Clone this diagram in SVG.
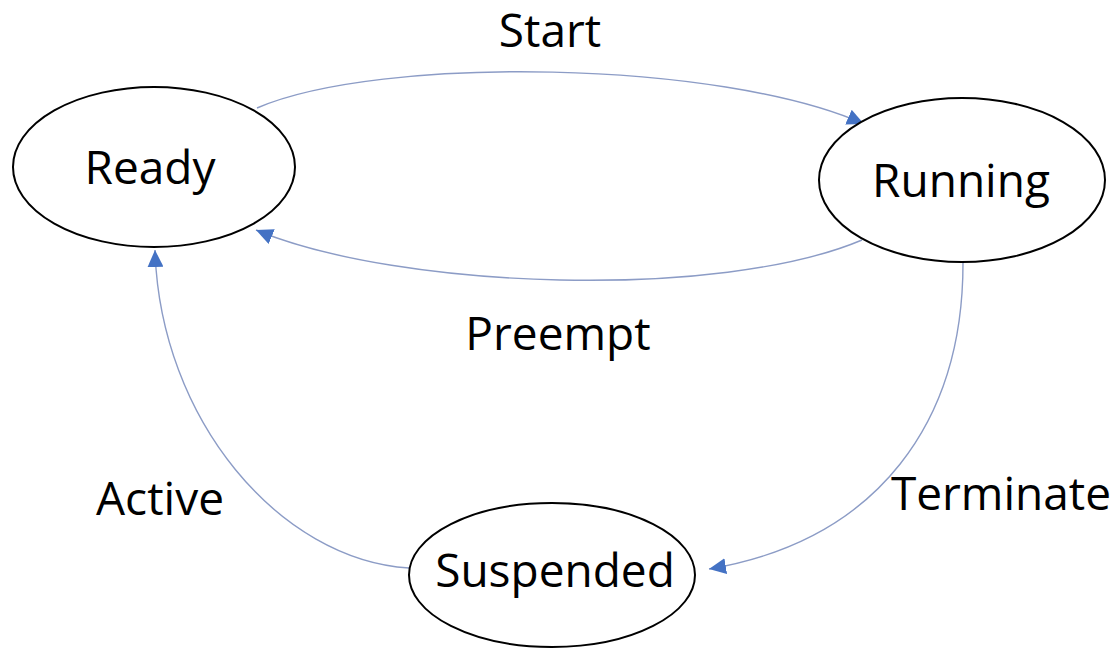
<svg xmlns="http://www.w3.org/2000/svg" width="1117" height="649" viewBox="0 0 1117 649">
  <style>
    .node { fill: #ffffff; stroke: #000000; stroke-width: 2; }
    .lbl { font-family: "Open Sans", "Liberation Sans", sans-serif; font-size: 46px; fill: #000000; text-anchor: middle; }
    .edge { fill: none; stroke: #8c9cc6; stroke-width: 1.4; marker-end: url(#arrow); }
  </style>
  <defs>
    <marker id="arrow" markerUnits="userSpaceOnUse" markerWidth="18" markerHeight="16" refX="17" refY="8" orient="auto">
      <path d="M0,0 L17,8 L0,16 z" fill="#4472c4"/>
    </marker>
  </defs>
  <rect width="1117" height="649" fill="#ffffff"/>
  <g id="connectors">
    <path id="e-start" class="edge" d="M257,108 C380,55 720,60 864,124"/>
    <path id="e-preempt" class="edge" d="M862,240 C720,300 400,290 256,230"/>
    <path id="e-terminate" class="edge" d="M963,263 C963,420 880,540 709,569"/>
    <path id="e-active" class="edge" d="M409,568 C280,560 160,420 155,250"/>
  </g>
  <g id="ready">
    <ellipse class="node" cx="154" cy="167" rx="141" ry="80"/>
    <text class="lbl" x="150" y="184">Ready</text>
  </g>
  <g id="running">
    <ellipse class="node" cx="962" cy="180" rx="143" ry="82"/>
    <text class="lbl" x="961" y="197">Running</text>
  </g>
  <g id="suspended">
    <ellipse class="node" cx="552" cy="575" rx="143" ry="72"/>
    <text class="lbl" x="555" y="587">Suspended</text>
  </g>
  <g id="labels">
    <text class="lbl" x="550" y="47">Start</text>
    <text class="lbl" x="558" y="350">Preempt</text>
    <text class="lbl" x="160" y="515">Active</text>
    <text class="lbl" x="1001" y="510">Terminate</text>
  </g>
</svg>
